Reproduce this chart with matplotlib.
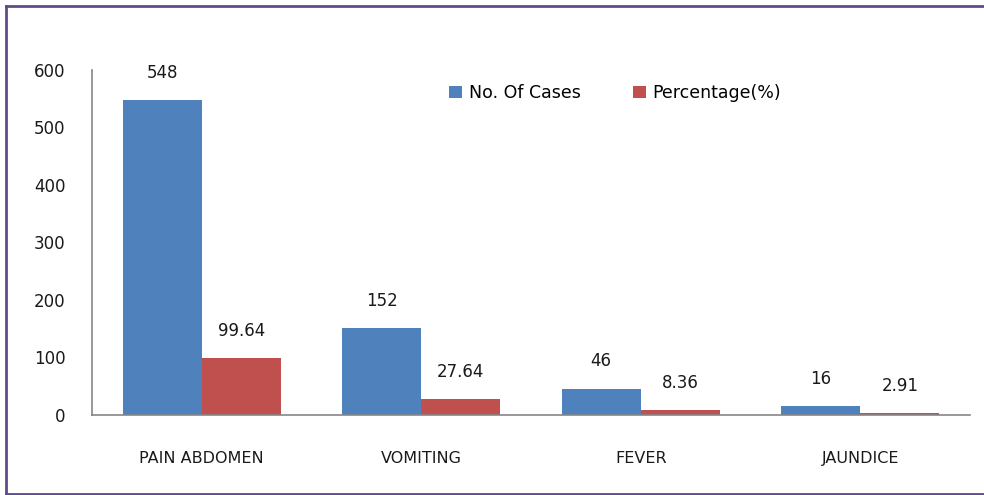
import numpy as np
import matplotlib.pyplot as plt
from matplotlib.lines import Line2D

# Data
symptoms = ['PAIN ABDOMEN', 'VOMITING', 'FEVER', 'JAUNDICE']
no_of_cases = [548, 152, 46, 16]
percentage = [99.64, 27.64, 8.36, 2.91]
case_labels = ['548', '152', '46', '16']
pct_labels = ['99.64', '27.64', '8.36', '2.91']
y_ticks = [0, 100, 200, 300, 400, 500, 600]

blue = '#4F81BD'
red = '#C0504D'
axis_grey = '#868686'
border = '#5F4B8B'

fig = plt.figure(figsize=(9.84, 4.95), dpi=100)
ax = fig.add_axes([92 / 984, 80 / 495, 878 / 984, 345 / 495])

x = np.arange(len(symptoms))
w = 0.36
b1 = ax.bar(x - w / 2, no_of_cases, w, color=blue, label='No. Of Cases')
b2 = ax.bar(x + w / 2, percentage, w, color=red, label='Percentage(%)')

# value labels above the bars
for bars, labels in ((b1, case_labels), (b2, pct_labels)):
    for rect, txt in zip(bars, labels):
        ax.annotate(txt, (rect.get_x() + rect.get_width() / 2, rect.get_height()),
                    xytext=(0, 19.5), textcoords='offset points',
                    ha='center', va='center', fontsize=12, color='#1a1a1a')

ax.set_xlim(-0.5, len(symptoms) - 0.5)
ax.set_ylim(0, 600)
ax.set_yticks(y_ticks)
ax.set_xticks(x)
ax.set_xticklabels(symptoms, fontsize=11.5)
ax.tick_params(axis='y', length=0, pad=19, labelsize=12, labelcolor='#1a1a1a')
ax.tick_params(axis='x', length=0, pad=26, labelcolor='#1a1a1a')

for side in ('top', 'right'):
    ax.spines[side].set_visible(False)
for side in ('left', 'bottom'):
    ax.spines[side].set_color(axis_grey)
    ax.spines[side].set_linewidth(1.2)

fig.legend(handles=[b1, b2], loc='center', bbox_to_anchor=(615 / 984, 1 - 93 / 495),
           ncol=2, frameon=False, fontsize=12.5, handlelength=0.75, handleheight=0.75,
           handletextpad=0.4, columnspacing=3.0)

# purple frame around the figure (right edge is cut off in the original)
fig.add_artist(Line2D([5.5 / 984, 1], [1 - 5.5 / 495] * 2, color=border, lw=2,
                      transform=fig.transFigure))
fig.add_artist(Line2D([5.5 / 984] * 2, [1 - 5.5 / 495, 1.5 / 495], color=border, lw=2,
                      transform=fig.transFigure))
fig.add_artist(Line2D([5.5 / 984, 1], [1.5 / 495] * 2, color=border, lw=2,
                      transform=fig.transFigure))

fig.savefig('out.png', dpi=100)
